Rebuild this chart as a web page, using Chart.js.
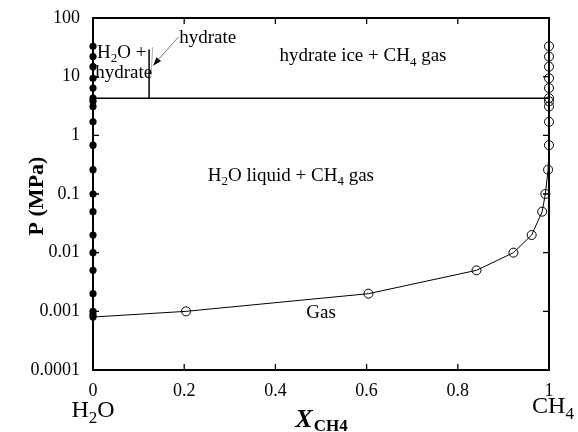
<!DOCTYPE html>
<html>
<head>
<meta charset="utf-8">
<script src="https://cdn.jsdelivr.net/npm/chart.js@4.4.1/dist/chart.umd.min.js"></script>
<style>
  body { margin: 0; background: #fff; }
  #wrap { width: 578px; height: 432px; }
</style>
</head>
<body>
<div id="wrap"><canvas id="phaseChart" width="578" height="432"></canvas></div>
<script>
// Axis ticks
const xTicks = [0, 0.2, 0.4, 0.6, 0.8, 1];
const xTickLabels = ['0', '0.2', '0.4', '0.6', '0.8', '1'];
const yTicks = [0.0001, 0.001, 0.01, 0.1, 1, 10, 100];
const yTickLabels = ['0.0001', '0.001', '0.01', '0.1', '1', '10', '100'];

// Water-rich boundary (X_CH4 = 0), filled dots
const waterP = [33, 22, 14.8, 9.4, 6.4, 4.3, 3.8, 3.1, 1.7, 0.68, 0.26, 0.1, 0.05, 0.02, 0.01, 0.005, 0.002, 0.001, 0.00088, 0.0008];

// Gas boundary, open circles
const gasX = [0, 0.204, 0.604, 0.841, 0.922, 0.962, 0.985, 0.992, 0.998, 1, 1, 1, 1, 1, 1, 1, 1, 1, 1];
const gasP = [0.0008, 0.001, 0.002, 0.005, 0.01, 0.02, 0.05, 0.1, 0.26, 0.68, 1.7, 3.1, 3.8, 4.3, 6.4, 9.4, 14.8, 22, 33];

// Three-phase line and hydrate composition
const threePhaseX = [0, 1];
const threePhaseP = [4.3, 4.3];
const hydrateX = [0.123, 0.123];
const hydrateP = [4.3, 29];
const hydrateThinX = [0.131, 0.127];
const hydrateThinP = [32, 10];
const arrowX = [0.188, 0.132];
const arrowP = [48, 15.5];

// Region labels [text parts, x, P, align]
const labels = [
  { parts: [['H'], ['2', 1], ['O +']], x: 0.009, p: 26.7, align: 'left' },
  { parts: [['hydrate']], x: 0.005, p: 11.8, align: 'left' },
  { parts: [['hydrate']], x: 0.189, p: 48, align: 'left' },
  { parts: [['hydrate ice + CH'], ['4', 1], [' gas']], x: 0.592, p: 23.3, align: 'center' },
  { parts: [['H'], ['2', 1], ['O liquid + CH'], ['4', 1], [' gas']], x: 0.434, p: 0.214, align: 'center' },
  { parts: [['Gas']], x: 0.5, p: 0.00096, align: 'center' }
];

const SERIF = '"Liberation Serif", "Times New Roman", serif';

function pts(xs, ps) {
  return xs.map((x, i) => ({ x: x, y: ps[i] }));
}

// draw text with subscripts; parts = [[text, isSub], ...]
function drawRich(ctx, parts, x, y, align, size, style) {
  style = style || '';
  const subSize = Math.round(size * 0.7);
  let total = 0;
  parts.forEach(p => {
    ctx.font = style + (p[1] ? subSize : size) + 'px ' + SERIF;
    total += ctx.measureText(p[0]).width;
  });
  let cx = align === 'center' ? x - total / 2 : (align === 'right' ? x - total : x);
  ctx.textAlign = 'left';
  ctx.textBaseline = 'alphabetic';
  parts.forEach(p => {
    ctx.font = style + (p[1] ? subSize : size) + 'px ' + SERIF;
    ctx.fillText(p[0], cx, p[1] ? y + size * 0.25 : y);
    cx += ctx.measureText(p[0]).width;
  });
}

const framePlugin = {
  id: 'frame',
  beforeDatasetsDraw(chart) {
    const ctx = chart.ctx;
    const a = chart.chartArea;
    const xs = chart.scales.x, ys = chart.scales.y;
    ctx.save();
    ctx.strokeStyle = '#000';
    ctx.lineWidth = 2;
    ctx.strokeRect(a.left, a.top, a.right - a.left, a.bottom - a.top);
    ctx.lineWidth = 1.3;
    ctx.beginPath();
    xTicks.forEach(v => {
      const px = xs.getPixelForValue(v);
      ctx.moveTo(px, a.bottom); ctx.lineTo(px, a.bottom - 6);
      ctx.moveTo(px, a.top); ctx.lineTo(px, a.top + 6);
    });
    yTicks.forEach(v => {
      const py = ys.getPixelForValue(v);
      ctx.moveTo(a.left, py); ctx.lineTo(a.left + 6, py);
      ctx.moveTo(a.right, py); ctx.lineTo(a.right - 6, py);
    });
    ctx.stroke();
    ctx.restore();
  },
  afterDraw(chart) {
    const ctx = chart.ctx;
    const a = chart.chartArea;
    const xs = chart.scales.x, ys = chart.scales.y;
    ctx.save();
    ctx.fillStyle = '#000';

    // tick labels
    ctx.font = '18px ' + SERIF;
    ctx.textAlign = 'right';
    ctx.textBaseline = 'middle';
    yTicks.forEach((v, i) => {
      ctx.fillText(yTickLabels[i], a.left - 13, ys.getPixelForValue(v));
    });
    ctx.textAlign = 'center';
    ctx.textBaseline = 'top';
    xTicks.forEach((v, i) => {
      ctx.fillText(xTickLabels[i], xs.getPixelForValue(v), a.bottom + 12);
    });

    // end member labels
    drawRich(ctx, [['H'], ['2', 1], ['O']], xs.getPixelForValue(0), a.bottom + 47, 'center', 24);
    drawRich(ctx, [['CH'], ['4', 1]], xs.getPixelForValue(1) + 4, a.bottom + 43, 'center', 24);

    // x axis title
    ctx.font = 'italic bold 26px ' + SERIF;
    const wX = ctx.measureText('X').width;
    ctx.font = 'bold 17px ' + SERIF;
    const wSub = ctx.measureText('CH4').width;
    let tx = xs.getPixelForValue(0.5) - (wX + wSub) / 2;
    ctx.textAlign = 'left';
    ctx.textBaseline = 'alphabetic';
    ctx.font = 'italic bold 26px ' + SERIF;
    ctx.fillText('X', tx, a.bottom + 57);
    ctx.font = 'bold 17px ' + SERIF;
    ctx.fillText('CH4', tx + wX + 1, a.bottom + 61);

    // y axis title
    ctx.save();
    ctx.translate(a.left - 56, (a.top + a.bottom) / 2 + 2);
    ctx.rotate(-Math.PI / 2);
    ctx.font = 'bold 22px ' + SERIF;
    ctx.textAlign = 'center';
    ctx.textBaseline = 'middle';
    ctx.fillText('P (MPa)', 0, 0);
    ctx.restore();

    // region labels
    labels.forEach(l => {
      drawRich(ctx, l.parts, xs.getPixelForValue(l.x), ys.getPixelForValue(l.p) + 6, l.align, 19);
    });

    // arrow head
    const x0 = xs.getPixelForValue(arrowX[0]), y0 = ys.getPixelForValue(arrowP[0]);
    const x1 = xs.getPixelForValue(arrowX[1]), y1 = ys.getPixelForValue(arrowP[1]);
    const ang = Math.atan2(y1 - y0, x1 - x0);
    ctx.beginPath();
    ctx.moveTo(x1, y1);
    ctx.lineTo(x1 - 9 * Math.cos(ang - 0.35), y1 - 9 * Math.sin(ang - 0.35));
    ctx.lineTo(x1 - 9 * Math.cos(ang + 0.35), y1 - 9 * Math.sin(ang + 0.35));
    ctx.closePath();
    ctx.fill();
    ctx.restore();
  }
};

const ctx = document.getElementById('phaseChart').getContext('2d');
new Chart(ctx, {
  type: 'scatter',
  data: {
    datasets: [
      {
        data: pts(threePhaseX, threePhaseP),
        showLine: true, borderColor: '#000', borderWidth: 1.5, pointRadius: 0, clip: false
      },
      {
        data: pts(hydrateX, hydrateP),
        showLine: true, borderColor: '#000', borderWidth: 1.5, pointRadius: 0, clip: false
      },
      {
        data: pts(hydrateThinX, hydrateThinP),
        showLine: true, borderColor: '#999', borderWidth: 0.8, pointRadius: 0, clip: false
      },
      {
        data: pts(arrowX, arrowP),
        showLine: true, borderColor: '#555', borderWidth: 0.8, pointRadius: 0, clip: false
      },
      {
        data: pts(gasX, gasP),
        showLine: true, borderColor: '#000', borderWidth: 1, tension: 0,
        pointRadius: gasX.map((x, i) => i === 0 ? 0 : 4.5),
        pointBorderColor: '#000', pointBackgroundColor: 'rgba(0,0,0,0)', pointBorderWidth: 1,
        clip: false
      },
      {
        data: waterP.map(p => ({ x: 0, y: p })),
        showLine: false, pointRadius: 3.6,
        pointBackgroundColor: '#000', pointBorderColor: '#000', pointBorderWidth: 0,
        clip: false
      }
    ]
  },
  options: {
    responsive: false,
    animation: false,
    devicePixelRatio: 1,
    layout: { padding: { left: 93, right: 29, top: 18, bottom: 62 } },
    plugins: { legend: { display: false }, tooltip: { enabled: false } },
    scales: {
      x: { type: 'linear', min: 0, max: 1, display: false },
      y: { type: 'logarithmic', min: 0.0001, max: 100, display: false }
    }
  },
  plugins: [framePlugin]
});
</script>
</body>
</html>
